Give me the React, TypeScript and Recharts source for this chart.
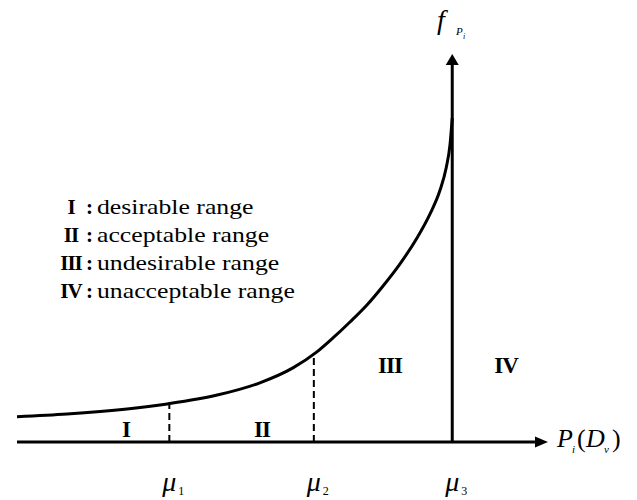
import React from 'react';
import { ComposedChart, Line, XAxis, YAxis, ReferenceLine, ReferenceDot } from 'recharts';

// curve: P_i(D_v) on the horizontal axis, f_Pi on the vertical one
const pValues = [0, 1.15, 2.53, 3.45, 4.6, 5.58, 6.34, 6.89, 7.26, 7.65, 8.04, 8.41, 8.8, 9.19, 9.49, 9.72, 9.86, 9.95, 10];
const fValues = [0.74, 0.82, 0.97, 1.12, 1.38, 1.74, 2.18, 2.65, 3.06, 3.53, 4.03, 4.59, 5.24, 6.0, 6.71, 7.41, 8.06, 8.76, 9.53];

// thresholds mu1, mu2, mu3 and the curve height where the dashed lines stop
const muValues = [3.5, 6.82, 10];
const muNames = ['1', '2', '3'];
const dashHeights = [1.13, 2.6];

// axis extents
const pMax = 12.2;
const fMax = 13;
const hAxisEnd = 11.9;
const vAxisEnd = 11.09;
const vArrowTip = 11.41;

const legendNumerals = ['I', 'II', 'III', 'IV'];
const legendTexts = ['desirable range', 'acceptable range', 'undesirable range', 'unacceptable range'];
const regionLabels = ['I', 'II', 'III', 'IV'];

const data = pValues.map((p, i) => ({ p, f: fValues[i] }));

const SERIF = '"Liberation Serif", "Times New Roman", serif';

const MuTick = (props: any) => {
  const { x, y, payload } = props;
  const idx = muValues.indexOf(payload.value);
  return (
    <g>
      <text x={x} y={y + 41} textAnchor="middle" fontFamily={SERIF} fontStyle="italic" fontSize={28} fill="#000">
        μ
      </text>
      <text x={x + 9} y={y + 45} fontFamily={SERIF} fontSize={12} fill="#000">
        {muNames[idx]}
      </text>
    </g>
  );
};

const ArrowRight = (props: any) => {
  const { cx, cy } = props;
  return <polygon points={`${cx},${cy} ${cx - 13},${cy - 5.5} ${cx - 13},${cy + 5.5}`} fill="#000" />;
};

const ArrowUp = (props: any) => {
  const { cx, cy } = props;
  return <polygon points={`${cx},${cy} ${cx - 6.5},${cy + 11} ${cx + 6.5},${cy + 11}`} fill="#000" />;
};

const regionPos = [
  { x: 126, y: 437 },
  { x: 262, y: 437 },
  { x: 390, y: 373 },
  { x: 506, y: 373 },
];

const App = () => {
  return (
    <div style={{ position: 'absolute', left: 0, top: 0, width: 637, height: 500, background: '#fff' }}>
      <ComposedChart width={637} height={500} data={data} margin={{ top: 0, right: 89, bottom: 0, left: 17 }}>
        <XAxis
          type="number"
          dataKey="p"
          domain={[0, pMax]}
          ticks={muValues}
          interval={0}
          axisLine={false}
          tickLine={false}
          height={58}
          tick={<MuTick />}
        />
        <YAxis type="number" domain={[0, fMax]} hide />
        <ReferenceLine segment={[{ x: 0, y: 0 }, { x: hAxisEnd, y: 0 }]} stroke="#000" strokeWidth={3} />
        <ReferenceDot x={pMax} y={0} r={0} shape={<ArrowRight />} />
        <ReferenceLine segment={[{ x: muValues[2], y: 0 }, { x: muValues[2], y: vAxisEnd }]} stroke="#000" strokeWidth={3} />
        <ReferenceDot x={muValues[2]} y={vArrowTip} r={0} shape={<ArrowUp />} />
        {dashHeights.map((h, i) => (
          <ReferenceLine
            key={i}
            segment={[{ x: muValues[i], y: 0 }, { x: muValues[i], y: h }]}
            stroke="#000"
            strokeWidth={2}
            strokeDasharray="7 4"
          />
        ))}
        <Line type="monotone" dataKey="f" stroke="#000" strokeWidth={3} dot={false} isAnimationActive={false} />
      </ComposedChart>

      <svg width={637} height={500} style={{ position: 'absolute', left: 0, top: 0, pointerEvents: 'none' }}>
        {/* legend */}
        {legendTexts.map((t, i) => {
          const y = 214 + i * 28;
          return (
            <g key={t}>
              <text x={71} y={y} textAnchor="middle" fontFamily={SERIF} fontWeight="bold" fontSize={21} fill="#000" letterSpacing={-1}>
                {legendNumerals[i]}
              </text>
              <text x={86} y={y} fontFamily={SERIF} fontWeight="bold" fontSize={21} fill="#000">
                :
              </text>
              <text transform={`translate(97,${y}) scale(1.17,1)`} fontFamily={SERIF} fontSize={22} fill="#000">
                {t}
              </text>
            </g>
          );
        })}

        {/* region labels */}
        {regionLabels.map((r, i) => (
          <text key={r} x={regionPos[i].x} y={regionPos[i].y} textAnchor="middle" fontFamily={SERIF} fontWeight="bold" fontSize={23} fill="#000" letterSpacing={-1}>
            {r}
          </text>
        ))}

        {/* vertical axis title f_Pi */}
        <text x={437} y={29} fontFamily={SERIF} fontStyle="italic" fontSize={28} fill="#000">f</text>
        <text x={456} y={35} fontFamily={SERIF} fontStyle="italic" fontSize={11} fill="#000">P</text>
        <text x={463} y={39} fontFamily={SERIF} fontStyle="italic" fontSize={8} fill="#000">i</text>

        {/* horizontal axis title P_i(D_v) */}
        <text x={557} y={447} fontFamily={SERIF} fontStyle="italic" fontSize={26} fill="#000">P</text>
        <text x={572} y={453} fontFamily={SERIF} fontStyle="italic" fontSize={11} fill="#000">i</text>
        <text x={577} y={447} fontFamily={SERIF} fontSize={26} fill="#000">(</text>
        <text x={586} y={447} fontFamily={SERIF} fontStyle="italic" fontSize={26} fill="#000">D</text>
        <text x={604} y={453} fontFamily={SERIF} fontStyle="italic" fontSize={11} fill="#000">v</text>
        <text x={612} y={447} fontFamily={SERIF} fontSize={26} fill="#000">)</text>
      </svg>
    </div>
  );
};

export default App;
